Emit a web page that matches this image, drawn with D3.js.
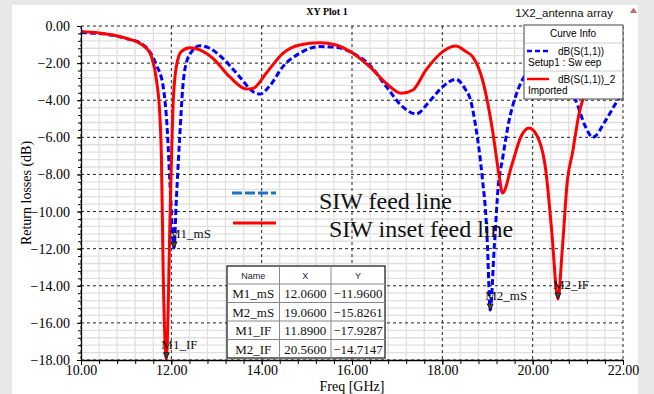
<!DOCTYPE html>
<html>
<head>
<meta charset="utf-8">
<script src="https://cdn.jsdelivr.net/npm/d3@7"></script>
<style>
    body { margin: 0; background: #e8e8e8; }
    svg { display: block; }
    .serif { font-family: "Liberation Serif", "Times New Roman", serif; }
    .sans { font-family: "Liberation Sans", Arial, sans-serif; }
    .axis path, .axis line { stroke: #000; }
    .axis text { font-family: "Liberation Serif", "Times New Roman", serif; font-size: 14px; fill: #000; }
</style>
</head>
<body>
<script>
// axis ticks
var xTickValues = [10, 12, 14, 16, 18, 20, 22];
var yTickValues = [0, -2, -4, -6, -8, -10, -12, -14, -16, -18];

// dB(S(1,1)) - Setup1 : Sweep  (SIW feed line)
var simFreq = [10.0, 10.4, 10.7, 11.0, 11.3, 11.52, 11.67, 11.82, 11.91, 11.97, 12.06, 12.11, 12.19, 12.25, 12.33,
    12.48, 12.63, 12.85, 13.14, 13.51, 13.81, 13.96, 14.18, 14.47, 14.84, 15.28, 15.65, 16.02, 16.39, 16.76,
    17.12, 17.42, 17.71, 18.01, 18.3, 18.52, 18.6, 18.74, 18.89, 18.97, 19.0, 19.06, 19.15, 19.24, 19.33,
    19.48, 19.62, 19.77, 20.0, 20.4, 20.8, 20.95, 21.17, 21.33, 21.62, 21.84, 22.0];
var simDb = [-0.36, -0.40, -0.50, -0.68, -0.90, -1.38, -2.10, -3.27, -5.60, -8.50, -11.96, -9.40, -5.80, -3.40, -2.00,
    -1.29, -1.06, -1.20, -1.74, -2.73, -3.54, -3.67, -3.22, -2.19, -1.47, -1.11, -1.15, -1.47, -2.10, -3.27,
    -4.35, -4.74, -4.08, -3.27, -2.87, -3.45, -3.81, -5.43, -8.30, -10.46, -11.90, -15.30, -11.90, -8.60, -7.20,
    -5.07, -3.81, -2.91, -2.40, -2.30, -3.30, -3.99, -5.43, -6.00, -5.07, -4.17, -3.60];

// dB(S(1,1))_2 - Imported  (SIW inset feed line)
var insetFreq = [10.0, 10.4, 10.7, 11.0, 11.23, 11.45, 11.56, 11.67, 11.75, 11.78, 11.82, 11.89, 11.98, 12.04, 12.11,
    12.22, 12.41, 12.63, 12.92, 13.29, 13.66, 13.81, 14.1, 14.47, 14.84, 15.28, 15.65, 16.02, 16.39, 16.76,
    17.09, 17.35, 17.64, 18.01, 18.3, 18.52, 18.67, 18.89, 19.11, 19.26, 19.33, 19.55, 19.74, 19.92, 20.14,
    20.29, 20.42, 20.56, 20.66, 20.77, 20.88, 21.03, 21.17, 21.4, 21.7, 22.0];
var insetDb = [-0.30, -0.38, -0.49, -0.66, -0.85, -1.20, -1.65, -2.90, -5.00, -7.00, -13.30, -17.93, -9.40, -4.20, -2.20,
    -1.38, -1.17, -1.29, -1.74, -2.73, -3.40, -3.36, -2.55, -1.47, -1.02, -0.90, -1.02, -1.47, -2.19, -3.09,
    -3.63, -3.45, -2.37, -1.38, -1.08, -1.38, -1.65, -2.91, -5.60, -8.10, -9.00, -7.40, -5.97, -5.50, -6.15,
    -7.76, -11.00, -14.71, -11.90, -8.30, -6.86, -4.70, -3.63, -3.10, -2.90, -3.10];

// markers
var markerNames = ["M1_mS", "M2_mS", "M1_IF", "M2_IF"];
var markerFreq = [12.06, 19.06, 11.89, 20.56];
var markerDb = [-11.96, -15.8261, -17.9287, -14.7147];
var markerCurve = [0, 0, 1, 1];

// legends
var curveNames = ["dB(S(1,1))", "dB(S(1,1))_2"];
var curveSources = ["Setup1 : Sw eep", "Imported"];
var overlayLabels = ["SIW feed line", "SIW inset feed line"];

function returnLossChart() {
    var _chart = {};

    var _width = 654, _height = 394,
        _margins = {top: 26, left: 81, right: 30, bottom: 34},
        _x, _y, _svg, _bodyG,
        _colors = ["#0000ff", "#ff0000"];

    _chart.render = function () {
        _svg = d3.select("body").append("svg")
            .attr("width", _width)
            .attr("height", _height);

        _x = d3.scaleLinear().domain([10, 22]).range([0, quadrantWidth()]);
        _y = d3.scaleLinear().domain([-18, 0]).range([quadrantHeight(), 0]);

        //面板
        _svg.append("rect")
            .attr("x", 12).attr("y", 5)
            .attr("width", 626).attr("height", 389)
            .attr("fill", "#fff");

        renderTitles(_svg);
        renderGrid(_svg);
        defineBodyClip(_svg);
        renderBody(_svg);
        renderAxes(_svg);
        renderMarkers();
        renderOverlayLegend(_svg);
        renderMarkerTable(_svg);
        renderCurveInfo(_svg);
    };

    function renderTitles(svg) {
        svg.append("text")
            .attr("class", "serif")
            .attr("x", 327).attr("y", 15)
            .attr("text-anchor", "middle")
            .attr("font-size", "10px")
            .attr("font-weight", "bold")
            .text("XY Plot 1");

        svg.append("text")
            .attr("class", "sans")
            .attr("x", 613).attr("y", 17)
            .attr("text-anchor", "end")
            .attr("font-size", "11.5px")
            .attr("fill", "#111")
            .text("1X2_antenna array");

        svg.append("path")
            .attr("d", "M630,13 L633.5,7.5 L637,13 Z")
            .attr("fill", "#c46a6a");

        svg.append("text")
            .attr("class", "serif")
            .attr("transform", "translate(31," + (yEnd() + quadrantHeight() / 2) + ") rotate(-90)")
            .attr("text-anchor", "middle")
            .attr("font-size", "14px")
            .text("Return losses (dB)");

        svg.append("text")
            .attr("class", "serif")
            .attr("x", xStart() + quadrantWidth() / 2)
            .attr("y", 391)
            .attr("text-anchor", "middle")
            .attr("font-size", "14px")
            .text("Freq [GHz]");
    }

    //网格
    function renderGrid(svg) {
        var g = svg.append("g")
            .attr("transform", "translate(" + xStart() + "," + yEnd() + ")");

        var minorX = d3.range(10, 22.001, 0.4).filter(function (d) { return Math.abs(d / 2 - Math.round(d / 2)) > 0.01; });
        var minorY = d3.range(-18, 0.001, 0.4).filter(function (d) { return Math.abs(d / 2 - Math.round(d / 2)) > 0.01; });

        g.selectAll("line.minor-x").data(minorX).enter().append("line")
            .attr("x1", _x).attr("x2", _x)
            .attr("y1", 0).attr("y2", quadrantHeight())
            .attr("stroke", "#e0e0e0").attr("stroke-width", 1.3);

        g.selectAll("line.minor-y").data(minorY).enter().append("line")
            .attr("y1", _y).attr("y2", _y)
            .attr("x1", 0).attr("x2", quadrantWidth())
            .attr("stroke", "#e0e0e0").attr("stroke-width", 1.3);

        g.selectAll("line.major-x").data(xTickValues).enter().append("line")
            .attr("x1", _x).attr("x2", _x)
            .attr("y1", 0).attr("y2", quadrantHeight())
            .attr("stroke", "#222").attr("stroke-dasharray", "3,3");

        g.selectAll("line.major-y").data(yTickValues).enter().append("line")
            .attr("y1", _y).attr("y2", _y)
            .attr("x1", 0).attr("x2", quadrantWidth())
            .attr("stroke", "#222").attr("stroke-dasharray", "3,3");
    }

    function defineBodyClip(svg) {
        svg.append("defs")
            .append("clipPath")
            .attr("id", "body-clip")
            .append("rect")
            .attr("x", 0).attr("y", -4)
            .attr("width", quadrantWidth())
            .attr("height", quadrantHeight() + 4);
    }

    //曲线
    function renderBody(svg) {
        _bodyG = svg.append("g")
            .attr("class", "body")
            .attr("transform", "translate(" + xStart() + "," + yEnd() + ")");

        var line = d3.line()
            .x(function (d) { return _x(d[0]); })
            .y(function (d) { return _y(d[1]); })
            .curve(d3.curveMonotoneX);

        var series = [d3.zip(simFreq, simDb), d3.zip(insetFreq, insetDb)];

        _bodyG.append("g").attr("clip-path", "url(#body-clip)")
            .selectAll("path.curve")
            .data(series)
            .enter().append("path")
            .attr("class", "curve")
            .attr("d", line)
            .attr("fill", "none")
            .attr("stroke", function (d, i) { return _colors[i]; })
            .attr("stroke-width", 3)
            .attr("stroke-linejoin", "round")
            .attr("stroke-dasharray", function (d, i) { return i === 0 ? "6,3" : null; });
    }

    function renderAxes(svg) {
        var minorX = d3.range(10, 22.001, 0.4);
        var minorY = d3.range(-18, 0.001, 0.4);

        svg.append("g")
            .attr("class", "x axis")
            .attr("transform", "translate(" + xStart() + "," + yStart() + ")")
            .call(d3.axisBottom(_x).tickValues(minorX).tickSize(4).tickFormat(""))
            .select("path").remove();

        svg.append("g")
            .attr("class", "x axis")
            .attr("transform", "translate(" + xStart() + "," + yStart() + ")")
            .call(d3.axisBottom(_x).tickValues(xTickValues).tickSize(5).tickPadding(0)
                .tickSizeOuter(0).tickFormat(d3.format(".2f")));

        svg.append("g")
            .attr("class", "y axis")
            .attr("transform", "translate(" + xStart() + "," + yEnd() + ")")
            .call(d3.axisLeft(_y).tickValues(minorY).tickSize(3).tickFormat(""))
            .select("path").remove();

        svg.append("g")
            .attr("class", "y axis")
            .attr("transform", "translate(" + xStart() + "," + yEnd() + ")")
            .call(d3.axisLeft(_y).tickValues(yTickValues).tickSize(4).tickPadding(7)
                .tickSizeOuter(0).tickFormat(d3.format(".2f")));

        d3.selectAll(".axis path").attr("stroke-width", 1.3);
    }

    //标记点
    function renderMarkers() {
        var curves = [[simFreq, simDb], [insetFreq, insetDb]];
        var pts = markerNames.map(function (name, i) {
            var c = curves[markerCurve[i]];
            var k = d3.minIndex(c[0], function (f) { return Math.abs(f - markerFreq[i]); });
            return {name: name, x: _x(markerFreq[i]), y: _y(Math.max(c[1][k], markerDb[i]))};
        });

        var mg = _bodyG.selectAll("g.marker").data(pts).enter().append("g")
            .attr("class", "marker")
            .attr("transform", function (d) { return "translate(" + d.x + "," + d.y + ")"; });

        mg.append("path")
            .attr("d", "M-3,-6 L3,-6 L0,0 Z")
            .attr("fill", "#444")
            .attr("stroke", "#111")
            .attr("stroke-width", 0.8);

        mg.append("text")
            .attr("class", "serif")
            .attr("x", -5).attr("y", -10)
            .attr("font-size", "13px")
            .attr("fill", "#111")
            .text(function (d) { return d.name; });
    }

    function renderOverlayLegend(svg) {
        var g = svg.append("g");
        g.append("line")
            .attr("x1", 232).attr("x2", 276).attr("y1", 193).attr("y2", 193)
            .attr("stroke", "#1e6fc4").attr("stroke-width", 2.8).attr("stroke-dasharray", "10,3");
        g.append("line")
            .attr("x1", 233).attr("x2", 276).attr("y1", 223).attr("y2", 223)
            .attr("stroke", "#ff0000").attr("stroke-width", 3);

        g.selectAll("text").data(overlayLabels).enter().append("text")
            .attr("class", "serif")
            .attr("x", function (d, i) { return i === 0 ? 319 : 329; })
            .attr("y", function (d, i) { return i === 0 ? 209 : 237; })
            .attr("font-size", "24px")
            .attr("fill", "#111")
            .text(function (d) { return d; });
    }

    //标记表格
    function renderMarkerTable(svg) {
        var cols = [227, 279.5, 331, 385];
        var top = 266, headH = 18, rowH = 18.5;
        var fmt = d3.format(".4f");
        var g = svg.append("g");

        g.append("rect")
            .attr("x", cols[0]).attr("y", top)
            .attr("width", cols[3] - cols[0]).attr("height", headH + rowH * markerNames.length)
            .attr("fill", "#fff").attr("stroke", "#111").attr("stroke-width", 1.2);

        markerNames.forEach(function (n, i) {
            g.append("line")
                .attr("x1", cols[0]).attr("x2", cols[3])
                .attr("y1", top + headH + rowH * i).attr("y2", top + headH + rowH * i)
                .attr("stroke", "#888");
        });
        [cols[1], cols[2]].forEach(function (c) {
            g.append("line")
                .attr("x1", c).attr("x2", c)
                .attr("y1", top).attr("y2", top + headH + rowH * markerNames.length)
                .attr("stroke", "#888");
        });

        ["Name", "X", "Y"].forEach(function (h, j) {
            g.append("text")
                .attr("class", "sans")
                .attr("x", (cols[j] + cols[j + 1]) / 2).attr("y", top + 13)
                .attr("text-anchor", "middle")
                .attr("font-size", "9px")
                .attr("fill", "#223")
                .text(h);
        });

        markerNames.forEach(function (n, i) {
            var row = [n, fmt(markerFreq[i]), fmt(markerDb[i])];
            row.forEach(function (t, j) {
                g.append("text")
                    .attr("class", "serif")
                    .attr("x", (cols[j] + cols[j + 1]) / 2)
                    .attr("y", top + headH + rowH * i + 14)
                    .attr("text-anchor", "middle")
                    .attr("font-size", "13px")
                    .attr("fill", "#111")
                    .text(t);
            });
        });
    }

    //图例 Curve Info
    function renderCurveInfo(svg) {
        var g = svg.append("g").attr("class", "sans");
        g.append("rect")
            .attr("x", 524).attr("y", 25).attr("width", 99).attr("height", 74)
            .attr("fill", "#fff").attr("stroke", "#444");
        g.append("text")
            .attr("x", 573).attr("y", 37)
            .attr("text-anchor", "middle").attr("font-size", "10px")
            .text("Curve Info");
        [43, 71].forEach(function (y) {
            g.append("line")
                .attr("x1", 525).attr("x2", 622).attr("y1", y).attr("y2", y)
                .attr("stroke", "#ccc");
        });

        curveNames.forEach(function (n, i) {
            var y0 = 51 + i * 28;
            g.append("line")
                .attr("x1", 527).attr("x2", 549).attr("y1", y0).attr("y2", y0)
                .attr("stroke", _colors[i]).attr("stroke-width", 2.5)
                .attr("stroke-dasharray", i === 0 ? "5,3" : null);
            g.append("text")
                .attr("x", 558).attr("y", y0 + 4)
                .attr("font-size", "10px")
                .text(n);
            g.append("text")
                .attr("x", 528).attr("y", y0 + 14.5)
                .attr("font-size", "10px")
                .text(curveSources[i]);
        });
    }

    function xStart() { return _margins.left; }
    function yStart() { return _height - _margins.bottom; }
    function yEnd() { return _margins.top; }
    function quadrantWidth() { return _width - _margins.left - _margins.right - 1; }
    function quadrantHeight() { return _height - _margins.top - _margins.bottom; }

    return _chart;
}

returnLossChart().render();
</script>
</body>
</html>
